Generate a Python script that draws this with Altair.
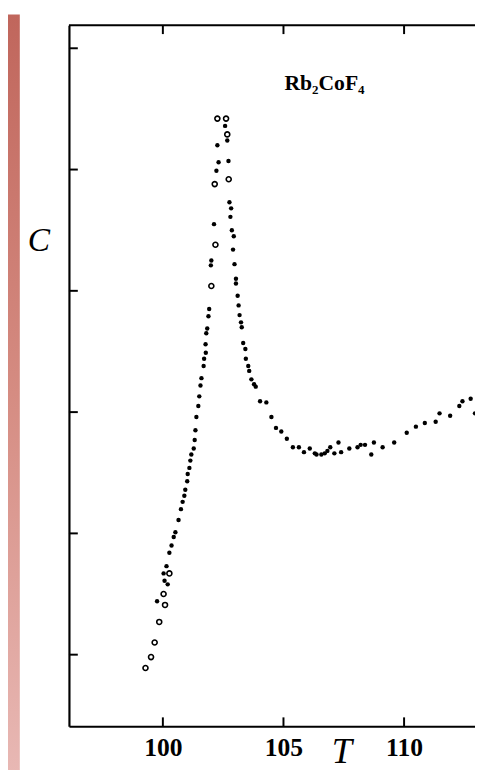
import altair as alt
import pandas as pd

# filled data points (T, C)
T_filled = [99.76, 100.20, 100.07, 100.03, 100.15, 100.27, 100.36, 100.45, 100.52, 100.65,
            100.75, 100.82, 100.89, 100.93, 101.01, 101.03, 101.10, 101.14, 101.18, 101.28,
            101.32, 101.35, 101.39, 101.47, 101.51, 101.56, 101.60, 101.69, 101.71, 101.78,
            101.77, 101.80, 101.84, 101.89, 101.92, 101.99, 102.01, 102.12, 102.22, 102.31,
            102.26, 102.58, 102.67, 102.72, 102.76, 102.83, 102.80, 102.86, 102.94, 102.91,
            102.97, 103.03, 103.03, 103.10, 103.14, 103.18, 103.24, 103.27, 103.33, 103.42,
            103.44, 103.54, 103.58, 103.67, 103.78, 103.85, 104.03, 104.29, 104.50, 104.69,
            104.91, 105.14, 105.39, 105.64, 105.85, 106.09, 106.30, 106.37, 106.57, 106.71,
            106.82, 106.94, 107.11, 107.28, 107.39, 107.73, 108.07, 108.20, 108.38, 108.64,
            108.75, 109.11, 109.59, 110.11, 110.49, 110.86, 111.31, 111.47, 111.91, 112.29,
            112.42, 112.76, 112.94]
C_filled = [1.44, 1.58, 1.61, 1.67, 1.73, 1.84, 1.90, 1.97, 2.01, 2.11,
            2.20, 2.26, 2.31, 2.36, 2.43, 2.49, 2.54, 2.60, 2.65, 2.70,
            2.77, 2.85, 2.96, 3.05, 3.13, 3.22, 3.28, 3.38, 3.44, 3.49,
            3.56, 3.65, 3.69, 3.79, 3.85, 4.21, 4.25, 4.55, 4.99, 5.06,
            5.20, 5.36, 5.24, 5.07, 4.73, 4.68, 4.61, 4.50, 4.45, 4.34,
            4.22, 4.10, 4.06, 3.96, 3.88, 3.80, 3.74, 3.70, 3.57, 3.52,
            3.44, 3.38, 3.34, 3.27, 3.23, 3.21, 3.09, 3.08, 2.96, 2.87,
            2.84, 2.78, 2.71, 2.71, 2.67, 2.70, 2.66, 2.65, 2.65, 2.66,
            2.68, 2.71, 2.66, 2.75, 2.67, 2.70, 2.71, 2.73, 2.73, 2.65,
            2.75, 2.71, 2.75, 2.83, 2.88, 2.91, 2.92, 2.99, 2.97, 3.05,
            3.09, 3.11, 2.99]

# open-circle data points (T, C)
T_open = [99.28, 99.51, 99.66, 99.85, 100.09, 100.03, 100.27, 102.01, 102.18, 102.15,
          102.26, 102.62, 102.67, 102.73]
C_open = [0.89, 0.98, 1.10, 1.27, 1.41, 1.50, 1.67, 4.04, 4.38, 4.88,
          5.42, 5.42, 5.29, 4.92]

x_ticks = [100, 105, 110]
y_ticks = [1, 2, 3, 4, 5, 6]

label_text = ["Rb₂CoF₄"]
label_T = [106.7]
label_C = [5.66]

T_DOMAIN = [96.107, 112.94]
C_DOMAIN = [0.41, 6.19]

W, H = 413, 713
SERIF = "Liberation Serif"

xs = alt.Scale(domain=T_DOMAIN, nice=False, zero=False)
ys = alt.Scale(domain=C_DOMAIN, nice=False, zero=False)

df_f = pd.DataFrame({"T": T_filled, "C": C_filled})
df_o = pd.DataFrame({"T": T_open, "C": C_open})
df_xt = pd.DataFrame({"T": x_ticks})
df_yt = pd.DataFrame({"C": y_ticks})
df_lab = pd.DataFrame({"T": label_T, "C": label_C, "txt": label_text})
one = pd.DataFrame({"a": [0]})

strip = alt.Chart(one).mark_rect(
    fill=alt.LinearGradient(
        gradient="linear", x1=0, x2=0, y1=0, y2=1,
        stops=[alt.GradientStop(color="#c0665c", offset=0),
               alt.GradientStop(color="#d58c82", offset=0.5),
               alt.GradientStop(color="#e8b8b4", offset=1)]),
    strokeWidth=0,
).encode(x=alt.value(-62), x2=alt.value(-50), y=alt.value(-11), y2=alt.value(760))

base_axes = alt.Chart(df_f).mark_point(opacity=0).encode(
    x=alt.X("T:Q", scale=xs,
            axis=alt.Axis(values=x_ticks, format="d", tickSize=0, labelPadding=9,
                          labelFont=SERIF, labelFontSize=26, labelFontWeight="bold",
                          labelColor="black",
                          domainColor="black", domainWidth=2.2, grid=False,
                          title="T", titleFont=SERIF, titleFontStyle="italic",
                          titleFontWeight="normal", titleFontSize=37, titleColor="black",
                          titleX=277, titleY=37, titleAlign="center",
                          titleBaseline="alphabetic")),
    y=alt.Y("C:Q", scale=ys,
            axis=alt.Axis(values=y_ticks, labels=False, tickSize=0,
                          domainColor="black", domainWidth=2.2, grid=False,
                          title="C", titleFont=SERIF, titleFontStyle="italic",
                          titleFontWeight="normal", titleFontSize=34, titleColor="black",
                          titleAngle=0, titleX=-31, titleY=229, titleAlign="center",
                          titleBaseline="alphabetic")),
)

filled = alt.Chart(df_f).mark_circle(size=20, color="black", opacity=1, clip=True).encode(
    x=alt.X("T:Q", scale=xs), y=alt.Y("C:Q", scale=ys))

opened = alt.Chart(df_o).mark_point(size=26, color="black", filled=False,
                                     strokeWidth=1.6, opacity=1, clip=True).encode(
    x=alt.X("T:Q", scale=xs), y=alt.Y("C:Q", scale=ys))

top_line = alt.Chart(one).mark_rule(color="black", strokeWidth=2.2).encode(
    x=alt.value(0), x2=alt.value(W), y=alt.value(0))

bot_ticks = alt.Chart(df_xt).mark_rule(color="black", strokeWidth=2).encode(
    x=alt.X("T:Q", scale=xs), y=alt.value(H), y2=alt.value(H - 9))
top_ticks = alt.Chart(df_xt).mark_rule(color="black", strokeWidth=2).encode(
    x=alt.X("T:Q", scale=xs), y=alt.value(0), y2=alt.value(9))
left_ticks = alt.Chart(df_yt).mark_rule(color="black", strokeWidth=2).encode(
    y=alt.Y("C:Q", scale=ys), x=alt.value(0), x2=alt.value(9))

label = alt.Chart(df_lab).mark_text(font=SERIF, fontSize=22, fontWeight="bold",
                                    color="black", align="center",
                                    baseline="alphabetic").encode(
    x=alt.X("T:Q", scale=xs), y=alt.Y("C:Q", scale=ys), text="txt:N")

chart = alt.layer(strip, base_axes, filled, opened, top_line, bot_ticks, top_ticks,
                  left_ticks, label).properties(
    width=W, height=H,
    autosize=alt.AutoSizeParams(type="none"),
    padding={"left": 62, "top": 11, "right": 0, "bottom": 38},
    background="white",
).configure_view(stroke=None)

chart.save("out.html", embed_options={"renderer": "svg", "actions": False})
